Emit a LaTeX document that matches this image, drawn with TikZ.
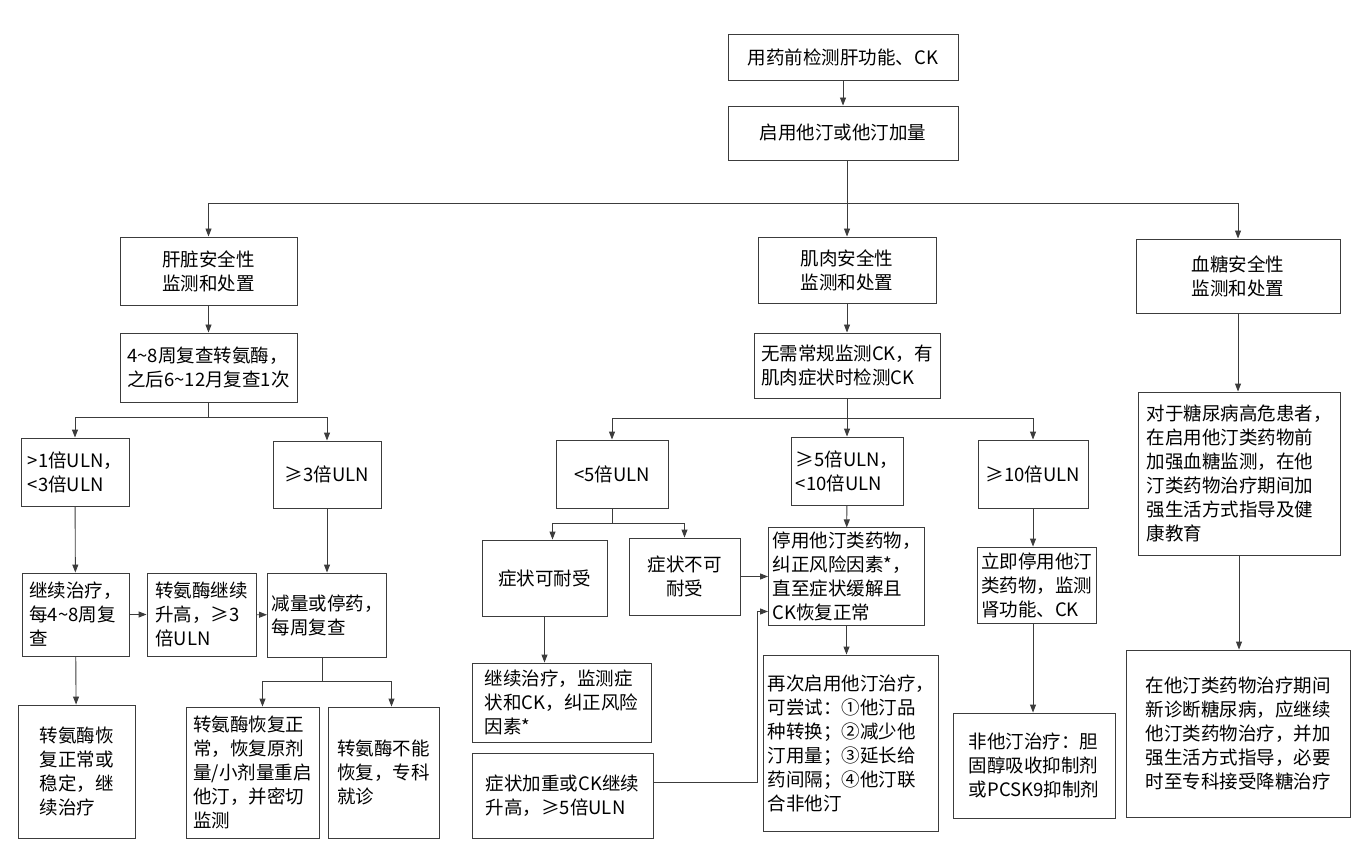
\documentclass[tikz,border=0pt]{standalone}
\usepackage{fontspec}
\setmainfont{Noto Sans CJK SC}
\usetikzlibrary{arrows.meta,calc,positioning}
\definecolor{lineclr}{RGB}{60,60,60}
\tikzset{
    box/.style={draw=lineclr, line width=0.9pt, inner sep=4pt, align=left,
        font=\fontsize{18.5}{24}\selectfont},
    cbox/.style={box, align=center},
    arr/.style={draw=lineclr, line width=0.9pt, -{Triangle[length=8pt,width=6pt]}},
    ln/.style={draw=lineclr, line width=0.9pt}
}
\newcommand{\bx}[5]{\node[box, minimum width=#3, minimum height=#4] (#1) at (#2) {#5};}
\newcommand{\cbx}[5]{\node[cbox, minimum width=#3, minimum height=#4] (#1) at (#2) {#5};}
\begin{document}
\begin{tikzpicture}[x=1pt, y=-1pt]
    \useasboundingbox (0,0) rectangle (1362,858);

    % Top
    \cbx{pre}{843,57}{230}{46}{用药前检测肝功能、CK}
    \cbx{start}{843,133}{230}{54}{启用他汀或他汀加量}

    % Three branches
    \cbx{liver}{208.5,271}{177}{68}{肝脏安全性\\监测和处置}
    \cbx{muscle}{847,270}{178}{66}{肌肉安全性\\监测和处置}
    \cbx{glu}{1238,276}{204}{74}{血糖安全性\\监测和处置}

    % === Liver ===
    \bx{lcheck}{208.5,367.5}{177}{69}{4\textasciitilde8周复查转氨酶，\\之后6\textasciitilde12月复查1次}
    \bx{lone}{75,472}{108}{68}{>1倍ULN，\\<3倍ULN}
    \cbx{lthree}{327,474.5}{108}{67}{≥3倍ULN}
    \bx{lcont}{75.5,614.5}{107}{83}{继续治疗，\\每4\textasciitilde8周复\\查}
    \bx{lrise}{201.5,614.5}{109}{83}{转氨酶继续\\升高，≥3\\倍ULN}
    \bx{lredu}{327,615}{108}{84}{减量或停药，\\每周复查}
    \bx{lnorm}{76.5,771.5}{117}{133}{转氨酶恢\\复正常或\\稳定，继\\续治疗}
    \bx{lrest}{252.5,772.5}{133}{131}{转氨酶恢复正\\常，恢复原剂\\量/小剂量重启\\他汀，并密切\\监测}
    \bx{lspec}{383.5,772.5}{111}{131}{转氨酶不能\\恢复，专科\\就诊}

    % === Muscle ===
    \bx{mcheck}{847,365.5}{186}{65}{无需常规监测CK，有\\肌肉症状时检测CK}
    \cbx{mfive}{612,474}{112}{68}{<5倍ULN}
    \bx{mmid}{847,471}{112}{68}{≥5倍ULN，\\<10倍ULN}
    \cbx{mten}{1033,474}{110}{68}{≥10倍ULN}
    \cbx{mtol}{544.5,578}{125}{76}{症状可耐受}
    \cbx{mintol}{684.5,576.5}{111}{77}{症状不可\\耐受}
    \bx{mstop}{846.5,576.5}{149}{97}{停用他汀类药物，\\纠正风险因素*，\\直至症状缓解且\\CK恢复正常}
    \bx{mcont}{561.5,702.5}{179}{79}{继续治疗，监测症\\状和CK，纠正风险\\因素*}
    \bx{mworse}{562.5,795.5}{181}{85}{症状加重或CK继续\\升高，≥5倍ULN}
    \bx{mre}{851,743}{168}{176}{再次启用他汀治疗，\\可尝试：①他汀品\\种转换；②减少他\\汀用量；③延长给\\药间隔；④他汀联\\合非他汀}
    \bx{mnow}{1036.5,585}{117}{76}{立即停用他汀\\类药物，监测\\肾功能、CK}
    \bx{mnon}{1034,765.5}{162}{105}{非他汀治疗：胆\\固醇吸收抑制剂\\或PCSK9抑制剂}

    % === Glucose ===
    \bx{gpre}{1239,473.5}{202}{163}{对于糖尿病高危患者，\\在启用他汀类药物前\\加强血糖监测，在他\\汀类药物治疗期间加\\强生活方式指导及健\\康教育}
    \bx{gnew}{1238,733.5}{224}{167}{在他汀类药物治疗期间\\新诊断糖尿病，应继续\\他汀类药物治疗，并加\\强生活方式指导，必要\\时至专科接受降糖治疗}

    % Connectors
    \draw[arr] (pre) -- (start);
    \coordinate (split) at (847,203);
    \draw[ln] (start.south -| split) -- (split);
    \draw[arr] (split) -| (liver.north);
    \draw[arr] (split) -- (muscle.north);
    \draw[arr] (split) -| (glu.north);

    \draw[arr] (liver) -- (lcheck);
    \coordinate (lsplit) at (208.5,417);
    \draw[ln] (lcheck.south) -- (lsplit);
    \draw[arr] (lsplit) -| (lone.north);
    \draw[arr] (lsplit) -| (lthree.north);
    \draw[arr] (lone) -- (lcont);
    \draw[arr] (lthree) -- (lredu);
    \draw[arr] (lcont) -- (lrise);
    \draw[arr] (lrise) -- (lredu);
    \draw[arr] (lcont) -- (lnorm);
    \coordinate (rsplit) at (322,681);
    \draw[ln] (lredu.south -| rsplit) -- (rsplit);
    \draw[arr] (rsplit) -| ([xshift=10]lrest.north);
    \draw[arr] (rsplit) -| ([xshift=8]lspec.north);

    \draw[arr] (muscle) -- (mcheck);
    \coordinate (msplit) at (847,418);
    \draw[ln] (mcheck.south) -- (msplit);
    \draw[arr] (msplit) -| (mfive.north);
    \draw[arr] (msplit) -- (mmid.north);
    \draw[arr] (msplit) -| (mten.north);
    \coordinate (tsplit) at (612,523);
    \draw[ln] (mfive.south) -- (tsplit);
    \draw[arr] (tsplit) -| ([xshift=8]mtol.north);
    \draw[arr] (tsplit) -| (mintol.north);
    \draw[arr] (mmid) -- (mstop);
    \draw[arr] (mintol.east) -- (mintol.east -| mstop.west);
    \draw[arr] ($(mworse.east)+(0,-13)$) -- ++(104,0) |- ($(mstop.west)+(0,35)$);
    \draw[arr] (mtol) -- (mtol |- mcont.north);
    \draw[arr] (mstop) -- (mstop |- mre.north);
    \draw[arr] (mten) -- (mten |- mnow.north);
    \draw[arr] (mnow.south -| mten) -- (mten |- mnon.north);

    \draw[arr] (glu) -- (glu |- gpre.north);
    \draw[arr] (gpre) -- (gpre |- gnew.north);
\end{tikzpicture}
\end{document}
